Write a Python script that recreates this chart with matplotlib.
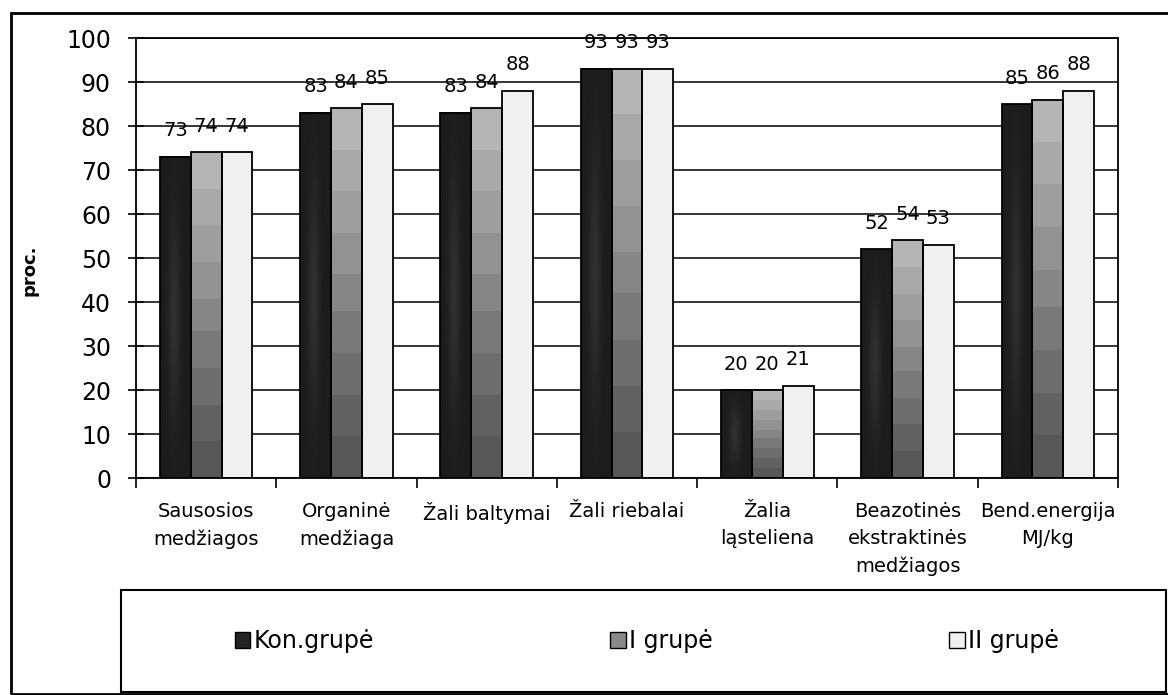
import numpy as np
import matplotlib
matplotlib.use("Agg")
import matplotlib.pyplot as plt
from matplotlib.patches import Rectangle, Patch

# chart data
categories = ["Sausosios\nmedžiagos", "Organinė\nmedžiaga", "Žali baltymai", "Žali riebalai",
              "Žalia\nląsteliena", "Beazotinės\nekstraktinės\nmedžiagos", "Bend.energija\nMJ/kg"]
series_names = ["Kon.grupė", "I grupė", "II grupė"]
kon_values = [73, 83, 83, 93, 20, 52, 85]
i_values = [74, 84, 84, 93, 20, 54, 86]
ii_values = [74, 85, 88, 93, 21, 53, 88]
y_ticks = [0, 10, 20, 30, 40, 50, 60, 70, 80, 90, 100]

W, H = 1168, 695


def fx(px):
    return px / W


def fy(py):
    return 1 - py / H


def dark_shade(ny=80, nx=20):
    yy, xx = np.mgrid[0:1:ny * 1j, 0:1:nx * 1j]
    return 0.11 + 0.08 * np.exp(-((xx - 0.45) / 0.2) ** 2) * np.exp(-((yy - 0.5) / 0.32) ** 2)


def mid_shade(ny=80, nx=4):
    yy, _ = np.mgrid[0:1:ny * 1j, 0:1:nx * 1j]
    band = np.minimum(np.floor(yy * 9), 8) / 8
    return 0.71 - 0.37 * band


def light_shade(ny=4, nx=4):
    return np.full((ny, nx), 0.94)


fig = plt.figure(figsize=(W / 100, H / 100), dpi=100)
ax = fig.add_axes([fx(136), fy(478), fx(1118) - fx(136), fy(38) - fy(478)])

x = np.arange(len(categories))
width = 0.22
all_values = [kon_values, i_values, ii_values]
shades = [dark_shade(), mid_shade(), light_shade()]
interp = ["bilinear", "nearest", "nearest"]

for k, vals in enumerate(all_values):
    pos = x + (k - 1) * width
    bars = ax.bar(pos, vals, width, color="none", edgecolor="black", linewidth=1.3, zorder=3)
    for b, v in zip(bars, vals):
        x0 = b.get_x()
        ax.imshow(shades[k], extent=[x0, x0 + width, 0, v], aspect="auto", cmap="gray",
                  vmin=0, vmax=1, interpolation=interp[k], zorder=2)
        ax.annotate(str(v), (x0 + width / 2, v), xytext=(0, 26), textcoords="offset pixels",
                    ha="center", va="center", fontsize=14)

ax.set_xlim(-0.5, len(categories) - 0.5)
ax.set_ylim(0, 100)
ax.set_yticks(y_ticks)
ax.tick_params(axis="y", direction="inout", length=12, width=1.2, labelsize=17, pad=12)
ax.yaxis.grid(True, color="black", linewidth=1.1)
ax.set_axisbelow(True)

# category boundaries get the ticks, labels sit at the centres
ax.set_xticks(np.arange(len(categories) + 1) - 0.5)
ax.set_xticklabels([])
ax.tick_params(axis="x", which="major", direction="out", length=7, width=1.2)
ax.set_xticks(x, minor=True)
ax.set_xticklabels(categories, minor=True, fontsize=14, linespacing=1.55)
ax.tick_params(axis="x", which="minor", length=0, pad=17)

for s in ax.spines.values():
    s.set_linewidth(1.3)
    s.set_color("black")

fig.text(fx(30), fy(270), "proc.", rotation=90, fontsize=13, fontweight="bold",
         ha="center", va="center")

# legend box at the bottom
fig.patches.append(Rectangle((fx(121), fy(692)), fx(1166) - fx(121), fy(590) - fy(692),
                             transform=fig.transFigure, fill=False, edgecolor="black",
                             linewidth=1.5))
handles = [Patch(facecolor="#232323", edgecolor="black"),
           Patch(facecolor="#8a8a8a", edgecolor="black"),
           Patch(facecolor="#f0f0f0", edgecolor="black")]
fig.legend(handles, series_names, loc="center", bbox_to_anchor=(fx(647), fy(641)), ncol=3,
           frameon=False, fontsize=17, handlelength=0.65, handleheight=0.65,
           handletextpad=0.15, columnspacing=10)

# outer frame of the picture
fig.patches.append(Rectangle((fx(11), fy(694)), 1.2, fy(13) - fy(694),
                             transform=fig.transFigure, fill=False, edgecolor="black",
                             linewidth=2))

fig.savefig("out.png", dpi=100)
